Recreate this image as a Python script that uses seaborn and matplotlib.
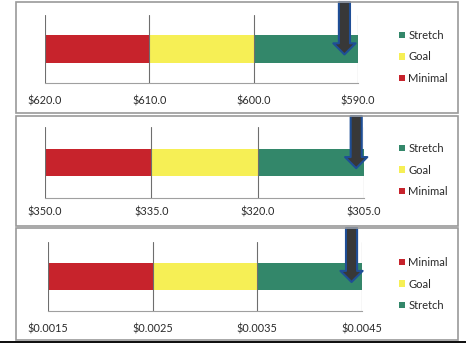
import matplotlib
matplotlib.use("Agg")
import matplotlib.pyplot as plt
from matplotlib.patches import Rectangle
import seaborn as sns

sns.set_style("white")
plt.rcParams['font.family'] = ['Lato', 'DejaVu Sans']

# ---- data ----
p1_bounds = [620, 610, 600, 590]          # Minimal start, Goal start, Stretch start, end
p1_ticks = [620, 610, 600, 590]
p1_labels = ["$620.0", "$610.0", "$600.0", "$590.0"]
p1_actual = 591.3

p2_bounds = [350, 335, 320, 305]
p2_ticks = [350, 335, 320, 305]
p2_labels = ["$350.0", "$335.0", "$320.0", "$305.0"]
p2_actual = 306.1

p3_bounds = [0.0015, 0.0025, 0.0035, 0.0045]
p3_ticks = [0.0015, 0.0025, 0.0035, 0.0045]
p3_labels = ["$0.0015", "$0.0025", "$0.0035", "$0.0045"]
p3_actual = 0.0044

bands = ["Minimal", "Goal", "Stretch"]
legend_order_12 = ["Stretch", "Goal", "Minimal"]
legend_order_3 = ["Minimal", "Goal", "Stretch"]

colors = {"Minimal": "#C7232C", "Goal": "#F6EF55", "Stretch": "#33876A"}

W, H = 466, 343
fig = plt.figure(figsize=(W / 100, H / 100), dpi=100)
fig.patch.set_facecolor("white")


def fx(px):
    return px / W


def fy(py):
    return 1 - py / H


panels = [
    dict(ax=(45, 358, 15, 83), frame=(2, 113), leg=57, bw=0.41, bounds=p1_bounds,
         ticks=p1_ticks, labels=p1_labels, actual=p1_actual, order=legend_order_12, pad=9),
    dict(ax=(45, 364, 127, 198), frame=(116, 226), leg=170, bw=0.38, bounds=p2_bounds,
         ticks=p2_ticks, labels=p2_labels, actual=p2_actual, order=legend_order_12, pad=6),
    dict(ax=(48, 362, 242, 311), frame=(228, 340), leg=284, bw=0.39, bounds=p3_bounds,
         ticks=p3_ticks, labels=p3_labels, actual=p3_actual, order=legend_order_3, pad=9),
]

for p in panels:
    x0, x1, yt, yb = p["ax"]
    ft, fb = p["frame"]
    fig.patches.append(Rectangle((fx(16), fy(fb)), fx(458) - fx(16), fy(ft) - fy(fb),
                                 transform=fig.transFigure, fill=False,
                                 edgecolor="#9a9a9a", lw=1.2, zorder=0))
    ax = fig.add_axes([fx(x0), fy(yb), fx(x1) - fx(x0), fy(yt) - fy(yb)])
    b = p["bounds"]
    decreasing = b[0] > b[-1]
    if decreasing:
        seq = [("Minimal", b[0]), ("Goal", b[1]), ("Stretch", b[2])]
    else:
        seq = [("Stretch", b[3]), ("Goal", b[2]), ("Minimal", b[1])]
    for name, val in seq:
        sns.barplot(x=[val], y=["row"], orient="h", color=colors[name], saturation=1,
                    width=p["bw"], linewidth=0, label=name, ax=ax)
    ax.set_xlim(b[0], b[-1])
    ax.set_ylim(-0.5, 0.5)
    ax.set_xticks(p["ticks"])
    ax.set_xticklabels(p["labels"])
    ax.set_yticks([])
    ax.set_ylabel("")
    ax.set_xlabel("")
    ax.tick_params(axis="x", length=0, pad=p["pad"], labelsize=7.8, labelcolor="#2a2a2a")
    ax.grid(axis="x", color="#6e6e6e", lw=0.8)
    ax.grid(axis="y", visible=False)
    ax.set_axisbelow(False)
    for s in ["top", "left", "right"]:
        ax.spines[s].set_visible(False)
    ax.spines["bottom"].set_color("#a0a0a0")
    ax.spines["bottom"].set_linewidth(0.8)
    ax.patch.set_alpha(0)

    ytop_frac = (yb - ft) / (yb - yt)
    tip_frac = 0.42
    ax.annotate("", xy=(p["actual"], tip_frac), xytext=(p["actual"], ytop_frac),
                xycoords=("data", "axes fraction"), textcoords=("data", "axes fraction"),
                annotation_clip=False,
                arrowprops=dict(arrowstyle="simple,head_length=0.8,head_width=1.6,tail_width=0.8",
                                mutation_scale=10, fc="#383838", ec="#1F4E96", lw=1.5,
                                shrinkA=0, shrinkB=0))

    handles, labels = ax.get_legend_handles_labels()
    hmap = dict(zip(labels, handles))
    leg = ax.legend([hmap[n] for n in p["order"]], p["order"], loc="center left",
                    bbox_to_anchor=(fx(399), fy(p["leg"])), bbox_transform=fig.transFigure,
                    frameon=False, fontsize=8, handlelength=0.55, handleheight=0.55,
                    handletextpad=0.3, labelspacing=0.95, borderpad=0, borderaxespad=0)
    for t in leg.get_texts():
        t.set_color("#2a2a2a")

fig.patches.append(Rectangle((0, 0), 1, 2.5 / H, transform=fig.transFigure,
                             facecolor="#111111", edgecolor="none", zorder=0))

fig.savefig("out.png", dpi=100, facecolor="white")
